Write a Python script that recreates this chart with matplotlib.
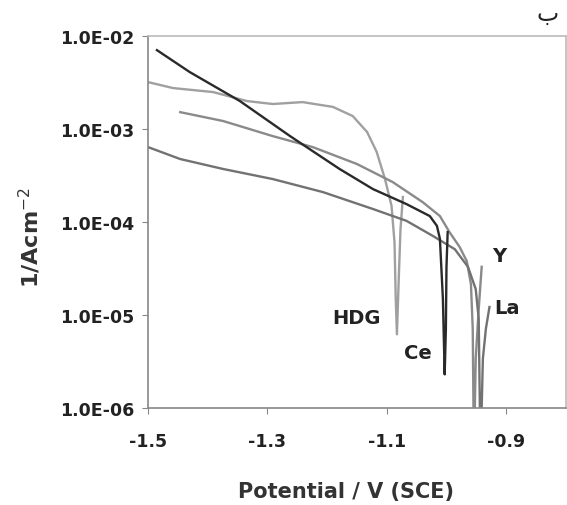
import matplotlib
matplotlib.use('Agg')
import matplotlib.pyplot as plt
from matplotlib.ticker import FixedLocator, FuncFormatter

# HDG (plateau curve)
hdg_v = [-1.500, -1.458, -1.391, -1.334, -1.291, -1.241, -1.190, -1.157, -1.133,
         -1.117, -1.103, -1.092, -1.087, -1.085, -1.083,
         -1.080, -1.077, -1.073]
hdg_i = [3.2e-3, 2.76e-3, 2.5e-3, 2.0e-3, 1.86e-3, 1.95e-3, 1.73e-3, 1.38e-3, 9.3e-4,
         5.7e-4, 2.9e-4, 1.49e-4, 6.0e-5, 1.5e-5, 6.2e-6,
         2.4e-5, 8.4e-5, 1.86e-4]

# Ce (dark curve)
ce_v = [-1.485, -1.430, -1.346, -1.262, -1.179, -1.123, -1.067, -1.028, -1.016, -1.011,
        -1.006, -1.003, -1.001, -1.000, -0.998]
ce_i = [7.06e-3, 4.1e-3, 2.0e-3, 8.4e-4, 3.72e-4, 2.26e-4, 1.56e-4, 1.16e-4, 9.1e-5, 6.6e-5,
        1.5e-5, 2.3e-6, 7.1e-6, 3.3e-5, 7.8e-5]

# Y
y_v = [-1.446, -1.374, -1.291, -1.224, -1.150, -1.090, -1.040, -1.011, -0.995, -0.978,
       -0.966, -0.959, -0.956, -0.954, -0.951, -0.946, -0.941]
y_i = [1.52e-3, 1.22e-3, 8.4e-4, 6.4e-4, 4.21e-4, 2.69e-4, 1.64e-4, 1.16e-4, 7.8e-5, 5.4e-5,
       3.8e-5, 2.15e-5, 7.1e-6, 3e-7, 3.4e-6, 1.16e-5, 3.3e-5]

# La
la_v = [-1.500, -1.446, -1.374, -1.291, -1.207, -1.123, -1.067, -1.023, -0.986, -0.964,
        -0.951, -0.946, -0.943, -0.939, -0.934, -0.928]
la_i = [6.4e-4, 4.76e-4, 3.72e-4, 2.9e-4, 2.1e-4, 1.38e-4, 1.03e-4, 7.1e-5, 5.1e-5, 3.3e-5,
        1.9e-5, 9.1e-6, 3e-7, 3.4e-6, 7.1e-6, 1.22e-5]

x_ticks = [-1.5, -1.3, -1.1, -0.9]
y_ticks = [1e-6, 1e-5, 1e-4, 1e-3, 1e-2]

labels = ['HDG', 'Ce', 'Y', 'La']
label_pos = [(-1.150, 9.5e-6), (-1.048, 4.0e-6), (-0.911, 4.4e-5), (-0.898, 1.19e-5)]

FONT = 'DejaVu Sans'

fig = plt.figure(figsize=(5.67, 5.06), dpi=100)
ax = fig.add_axes([0.261, 0.1917, 0.737, 0.735])

ax.plot(hdg_v, hdg_i, color='#a0a0a0', lw=1.7)
ax.plot(y_v, y_i, color='#8a8a8a', lw=1.7)
ax.plot(la_v, la_i, color='#727272', lw=1.7)
ax.plot(ce_v, ce_i, color='#2a2a2a', lw=1.7)

ax.set_yscale('log')
ax.set_xlim(-1.5, -0.8)
ax.set_ylim(1e-6, 1e-2)
ax.xaxis.set_major_locator(FixedLocator(x_ticks))
ax.yaxis.set_major_locator(FixedLocator(y_ticks))
ax.yaxis.set_minor_locator(FixedLocator([]))
ax.xaxis.set_major_formatter(FuncFormatter(lambda v, p: f'{v:.1f}'))
ax.yaxis.set_major_formatter(FuncFormatter(lambda v, p: f'{v:.1E}'))

for lab in ax.get_xticklabels() + ax.get_yticklabels():
    lab.set_fontfamily(FONT)
    lab.set_fontweight('bold')
    lab.set_fontsize(12.5)
    lab.set_color('#222222')

ax.tick_params(axis='y', direction='out', length=4, color='#888888', pad=6)
ax.tick_params(axis='x', direction='out', length=4, color='#888888', pad=13)
for s in ['left', 'bottom']:
    ax.spines[s].set_color('#888888')
    ax.spines[s].set_linewidth(1.2)
for s in ['top', 'right']:
    ax.spines[s].set_color('#bbbbbb')
    ax.spines[s].set_linewidth(1.2)

for lab, (xv, yv) in zip(labels, label_pos):
    ax.text(xv, yv, lab, ha='center', va='center', fontfamily=FONT,
            fontweight='bold', fontsize=14, color='#222222')

ax.set_xlabel('Potential / V (SCE)', fontfamily=FONT, fontweight='bold',
              fontsize=15, color='#333333', va='center')
ax.xaxis.set_label_coords(0.474, -0.223)
ax.set_ylabel('1/Acm$^{-2}$', fontfamily=FONT, fontweight='bold',
              fontsize=16, color='#333333', va='center')
ax.yaxis.set_label_coords(-0.282, 0.462)

# panel letter
fig.text(0.966, 0.958, 'ب', ha='center', va='baseline', fontfamily=FONT,
         fontsize=17, color='#222222')

fig.savefig('out.png', dpi=100)
